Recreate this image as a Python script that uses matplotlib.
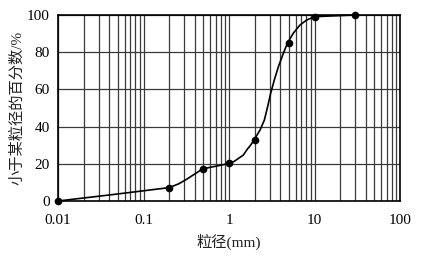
import matplotlib
matplotlib.use('Agg')
import matplotlib.pyplot as plt
from matplotlib.ticker import LogLocator, NullFormatter, FixedLocator

fonts = ['Liberation Serif', 'Noto Sans CJK SC']
plt.rcParams['font.family'] = fonts

# measured points (markers)
size_mm = [0.01, 0.2, 0.5, 1, 2, 5, 10, 30]
pct = [0, 7.2, 17.2, 20.3, 32.8, 85.1, 99.1, 100]

# points
curve_x = [0.01, 0.0444, 0.2, 0.26, 0.32, 0.4, 0.49, 0.6, 0.72, 0.85, 1.0, 1.15,
           1.29, 1.47, 1.61, 1.78, 1.96, 2.31, 2.59, 2.83, 3.07, 3.39, 3.78,
           4.32, 4.85, 5.65, 6.76, 8.1, 10, 30]
curve_y = [0, 3.5, 7.2, 9.3, 11.7, 14.6, 17.2, 18.1, 18.8, 19.5, 20.3, 21.3,
           22.9, 24.7, 27.4, 29.9, 32.8, 38.2, 43.5, 50.7, 57.9, 65.1, 72.2,
           79.4, 85.1, 90.2, 94.6, 97.3, 99.1, 100]

x_ticks = [0.01, 0.1, 1, 10, 100]
x_tick_labels = ['0.01', '0.1', '1', '10', '100']
y_ticks = [0, 20, 40, 60, 80, 100]

fig = plt.figure(figsize=(4.24, 2.58), dpi=100)
ax = fig.add_axes([0.1368, 0.2209, 0.8066, 0.7210])

ax.plot(curve_x, curve_y, color='black', lw=1.2, clip_on=False, zorder=3,
        solid_joinstyle='round')
ax.plot(size_mm, pct, 'o', color='black', ms=4.5, clip_on=False, zorder=4)

ax.set_xscale('log')
ax.set_xlim(0.01, 100)
ax.set_ylim(0, 100)
ax.xaxis.set_major_locator(FixedLocator(x_ticks))
ax.set_xticklabels(x_tick_labels)
ax.xaxis.set_minor_locator(LogLocator(base=10, subs=range(2, 10), numticks=20))
ax.xaxis.set_minor_formatter(NullFormatter())
ax.set_yticks(y_ticks)

ax.grid(True, which='both', axis='x', color='#3a3a3a', lw=0.9)
ax.grid(True, which='major', axis='y', color='#3a3a3a', lw=0.9)
ax.tick_params(which='both', length=0)
ax.tick_params(axis='x', pad=9, labelsize=11)
ax.tick_params(axis='y', pad=6, labelsize=11)
for s in ax.spines.values():
    s.set_linewidth(1.2)
    s.set_color('black')

ax.set_xlabel('粒径(mm)', fontsize=11, labelpad=5, color='#222222')
ax.set_ylabel('小于某粒径的百分数/%', fontsize=11, labelpad=2, color='#222222')

fig.savefig('out.png', dpi=100)
